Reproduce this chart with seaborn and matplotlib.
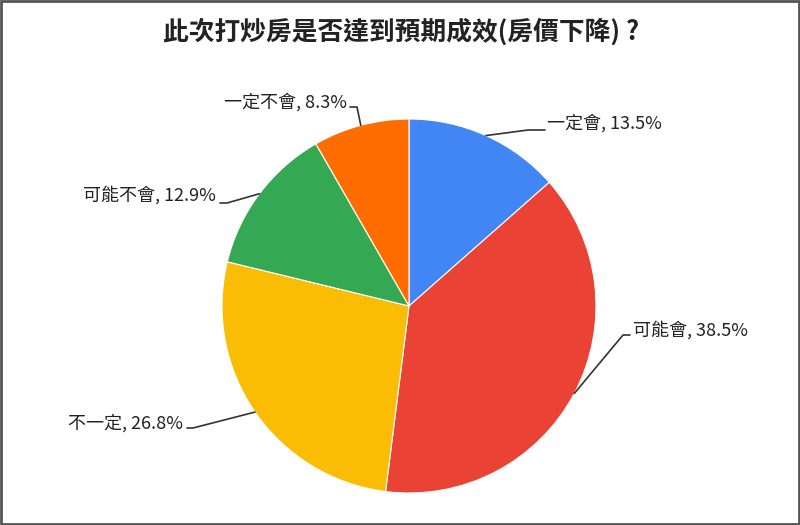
import numpy as np
import matplotlib
matplotlib.use("Agg")
import matplotlib.pyplot as plt
import seaborn as sns
from matplotlib.patches import Rectangle

# data
labels = ["一定會", "可能會", "不一定", "可能不會", "一定不會"]
shares = [13.5, 38.5, 26.8, 12.9, 8.3]
colors = ["#4285F4", "#EA4335", "#FBBC04", "#34A853", "#FF6D01"]
title = "此次打炒房是否達到預期成效(房價下降) ?"

# layout, in image pixels (y down): text anchor, elbow, end of the short horizontal
text_pos = [(547, 123), (633, 330), (183, 423), (216, 195), (347, 102)]
elbow_pos = [(528, 130), (623, 335), (193, 428), (227, 203), (357, 107)]
end_pos = [(545, 130), (630, 335), (187, 428), (220, 203), (350, 107)]
text_ha = ["left", "left", "right", "right", "right"]

W, H = 800, 525
CX, CY, R = 409, 306, 187


def flip(p):
    return (p[0], H - p[1])


def main():
    sns.set_theme(style="white")
    plt.rcParams["font.family"] = ["Noto Sans CJK TC", "DejaVu Sans"]

    fig = plt.figure(figsize=(8, 5.25), dpi=100)
    ax = fig.add_axes([0, 0, 1, 1])
    ax.set_xlim(0, W)
    ax.set_ylim(0, H)
    ax.set_aspect("equal")
    ax.axis("off")

    wedges, _ = ax.pie(shares, colors=sns.color_palette(colors), startangle=90,
                       counterclock=False, radius=R, center=(CX, H - CY),
                       wedgeprops=dict(edgecolor="white", linewidth=0.8))
    ax.set_xlim(0, W)
    ax.set_ylim(0, H)

    for w, lab, val, tp, ep, np_, ha in zip(wedges, labels, shares, text_pos,
                                             elbow_pos, end_pos, text_ha):
        mid = np.deg2rad((w.theta1 + w.theta2) / 2)
        edge = (CX + R * np.cos(mid), (H - CY) + R * np.sin(mid))
        e = flip(ep)
        n = flip(np_)
        ax.plot([edge[0], e[0], n[0]], [edge[1], e[1], n[1]],
                color="#333333", lw=1.2, solid_capstyle="round")
        t = flip(tp)
        ax.text(t[0], t[1], f"{lab}, {val}%", ha=ha, va="center",
                fontsize=13, color="#222222")

    ax.text(401, H - 32, title, ha="center", va="center", fontsize=18.5,
            fontweight="bold", color="#222222")

    ax.add_patch(Rectangle((1, 1), W - 2, H - 2, fill=False,
                           edgecolor="#555555", lw=2))

    fig.savefig("out.png", dpi=100)


if __name__ == "__main__":
    main()
